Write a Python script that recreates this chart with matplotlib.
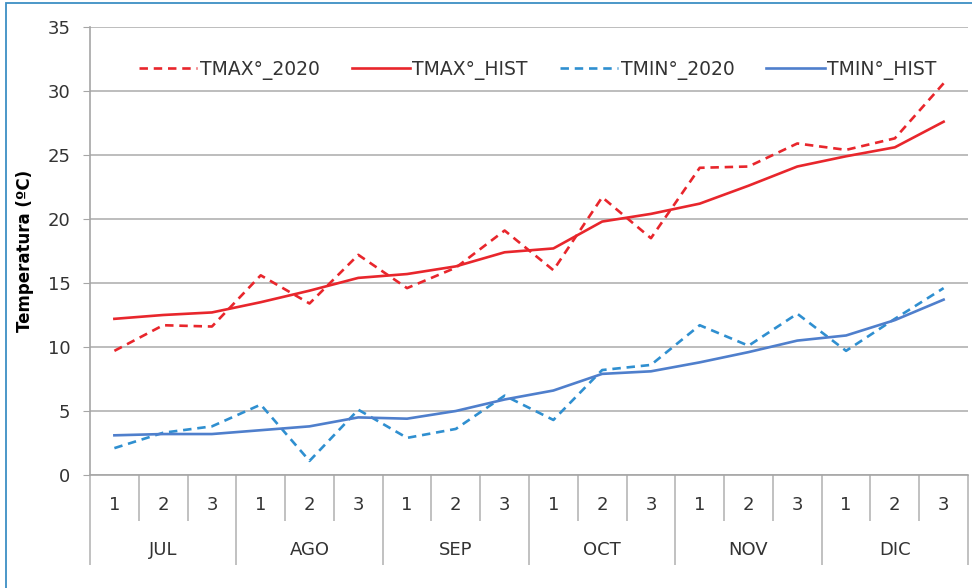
import matplotlib
matplotlib.use("Agg")
import matplotlib.pyplot as plt
import matplotlib.transforms as mtransforms
from matplotlib.patches import Rectangle
import numpy as np

plt.rcParams['font.family'] = ['DejaVu Sans']

months = ["JUL", "AGO", "SEP", "OCT", "NOV", "DIC"]
decades = ["1", "2", "3"]

tmax_2020 = [9.7, 11.7, 11.6, 15.6, 13.4, 17.2, 14.6, 16.2, 19.1,
             16.0, 21.7, 18.5, 24.0, 24.1, 25.9, 25.4, 26.3, 30.6]
tmax_hist = [12.2, 12.5, 12.7, 13.5, 14.4, 15.4, 15.7, 16.3, 17.4,
             17.7, 19.8, 20.4, 21.2, 22.6, 24.1, 24.9, 25.6, 27.6]
tmin_2020 = [2.1, 3.3, 3.8, 5.5, 1.1, 5.1, 2.9, 3.6, 6.2,
             4.3, 8.2, 8.6, 11.7, 10.1, 12.6, 9.7, 12.2, 14.6]
tmin_hist = [3.1, 3.2, 3.2, 3.5, 3.8, 4.5, 4.4, 5.0, 5.9,
             6.6, 7.9, 8.1, 8.8, 9.6, 10.5, 10.9, 12.1, 13.7]

series_labels = ["TMAX°_2020", "TMAX°_HIST", "TMIN°_2020", "TMIN°_HIST"]

fig = plt.figure(figsize=(9.72, 5.88), dpi=100)
W, H = 972, 588
ax = fig.add_axes([90 / W, 1 - 475 / H, (968 - 90) / W, (475 - 27) / H])

x = np.arange(len(tmax_2020))
red = "#e8262c"
blue_d = "#2f8fd0"
blue_s = "#4f7fcc"
lw = 1.9
ax.plot(x, tmax_2020, color=red, lw=lw, dashes=(3.2, 2.2), label=series_labels[0])
ax.plot(x, tmax_hist, color=red, lw=lw, label=series_labels[1])
ax.plot(x, tmin_2020, color=blue_d, lw=lw, dashes=(3.2, 2.2), label=series_labels[2])
ax.plot(x, tmin_hist, color=blue_s, lw=lw, label=series_labels[3])

ax.set_xlim(-0.5, len(x) - 0.5)
ax.set_ylim(0, 35)
ax.set_yticks(np.arange(0, 36, 5))
ax.yaxis.grid(True, color="#bdbdbd", lw=1.4)
ax.set_axisbelow(True)
for s in ["top", "right"]:
    ax.spines[s].set_visible(False)
ax.spines["left"].set_color("#a6a6a6")
ax.spines["bottom"].set_color("#a6a6a6")
ax.spines["left"].set_linewidth(1.2)
ax.spines["bottom"].set_linewidth(1.2)
ax.tick_params(axis="y", length=5, color="#a6a6a6", labelsize=13, pad=9, labelcolor="#333333")

# category axis: boundaries
nd = len(decades)
bounds_all = np.arange(-0.5, len(x), 1.0)
bounds_month = np.arange(-0.5, len(x), nd)
ax.set_xticks(bounds_month)
ax.set_xticklabels([])
ax.set_xticks(bounds_all, minor=True)
ax.tick_params(axis="x", which="major", length=65, color="#b0b0b0", width=1.1)
ax.tick_params(axis="x", which="minor", length=33, color="#b0b0b0", width=1.1)

trans = mtransforms.blended_transform_factory(ax.transData, ax.transAxes)
yd = -(505 - 475) / (475 - 27)
ym = -(550 - 475) / (475 - 27)
for i in range(len(x)):
    ax.text(i, yd, decades[i % nd], transform=trans, ha="center", va="center",
            fontsize=13, color="#333333")
for m, name in enumerate(months):
    ax.text(m * nd + (nd - 1) / 2, ym, name, transform=trans, ha="center", va="center",
            fontsize=13, color="#333333")

ax.set_ylabel("Temperatura (ºC)", fontsize=12, fontweight="bold", labelpad=10)

leg = ax.legend(loc="center", bbox_to_anchor=(0.51, 1 - (70 - 27) / (475 - 27)),
                ncol=4, frameon=False, fontsize=13.5, handlelength=3.1,
                columnspacing=1.7, handletextpad=0.15)
for t in leg.get_texts():
    t.set_color("#333333")

fig.patches.append(Rectangle((6 / W, -0.01), 1.0, 1 - 3 / H + 0.01, transform=fig.transFigure,
                             fill=False, edgecolor="#3d8fc4", lw=1.3))

fig.savefig("out.png", dpi=100)
